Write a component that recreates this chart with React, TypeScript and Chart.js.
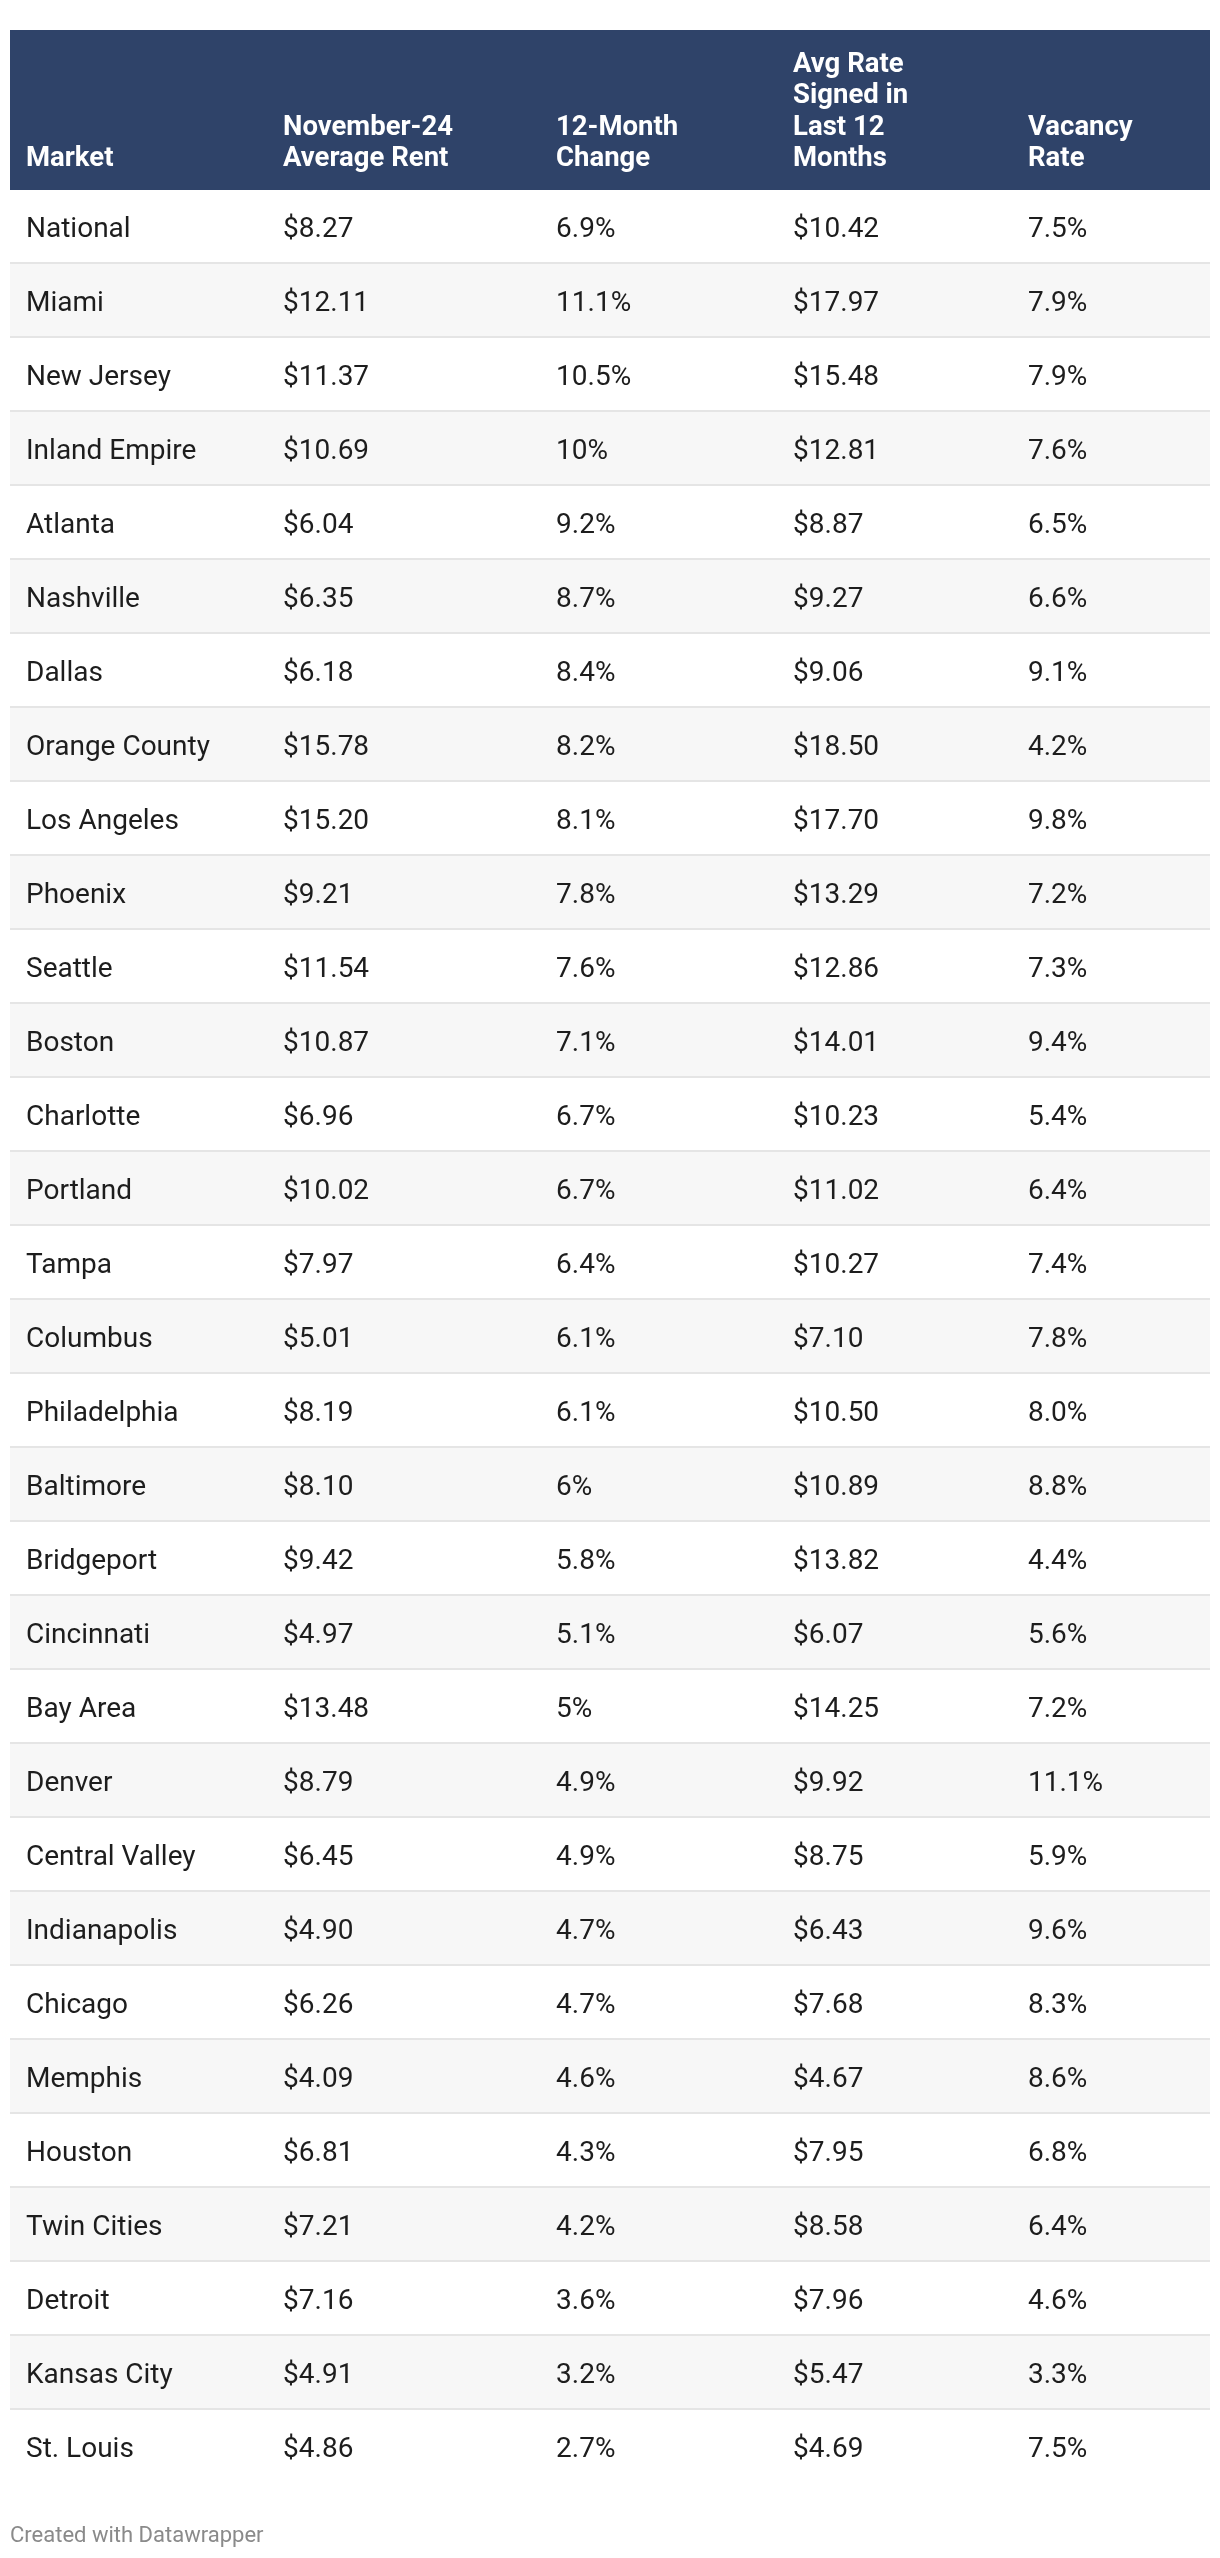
import React, { useEffect, useRef } from "react";
import { Chart, registerables } from "chart.js";

Chart.register(...registerables);

// ---- Data ----
const markets = [
  "National", "Miami", "New Jersey", "Inland Empire", "Atlanta", "Nashville", "Dallas",
  "Orange County", "Los Angeles", "Phoenix", "Seattle", "Boston", "Charlotte", "Portland",
  "Tampa", "Columbus", "Philadelphia", "Baltimore", "Bridgeport", "Cincinnati", "Bay Area",
  "Denver", "Central Valley", "Indianapolis", "Chicago", "Memphis", "Houston", "Twin Cities",
  "Detroit", "Kansas City", "St. Louis",
];
const averageRent = [
  8.27, 12.11, 11.37, 10.69, 6.04, 6.35, 6.18, 15.78, 15.2, 9.21, 11.54, 10.87, 6.96, 10.02,
  7.97, 5.01, 8.19, 8.1, 9.42, 4.97, 13.48, 8.79, 6.45, 4.9, 6.26, 4.09, 6.81, 7.21, 7.16, 4.91, 4.86,
];
const change12Month = [
  6.9, 11.1, 10.5, 10, 9.2, 8.7, 8.4, 8.2, 8.1, 7.8, 7.6, 7.1, 6.7, 6.7, 6.4, 6.1, 6.1, 6, 5.8,
  5.1, 5, 4.9, 4.9, 4.7, 4.7, 4.6, 4.3, 4.2, 3.6, 3.2, 2.7,
];
const avgRateSigned = [
  10.42, 17.97, 15.48, 12.81, 8.87, 9.27, 9.06, 18.5, 17.7, 13.29, 12.86, 14.01, 10.23, 11.02,
  10.27, 7.1, 10.5, 10.89, 13.82, 6.07, 14.25, 9.92, 8.75, 6.43, 7.68, 4.67, 7.95, 8.58, 7.96, 5.47, 4.69,
];
const vacancyRate = [
  7.5, 7.9, 7.9, 7.6, 6.5, 6.6, 9.1, 4.2, 9.8, 7.2, 7.3, 9.4, 5.4, 6.4, 7.4, 7.8, 8.0, 8.8, 4.4,
  5.6, 7.2, 11.1, 5.9, 9.6, 8.3, 8.6, 6.8, 6.4, 4.6, 3.3, 7.5,
];
const headerLines = [
  ["Market"],
  ["November-24", "Average Rent"],
  ["12-Month", "Change"],
  ["Avg Rate", "Signed in", "Last 12", "Months"],
  ["Vacancy", "Rate"],
];
const footerText = "Created with Datawrapper";

// ---- Layout / style ----
const W = 1220;
const H = 2558;
const TABLE_TOP = 30;
const HEADER_BOTTOM = 190;
const TABLE_BOTTOM = 2484;
const COL_STARTS = [0, 21.42, 44.17, 63.92, 83.5]; // in x-scale units (0..100)
const CELL_PAD = 16;
const HEADER_BG = "#2f4369";
const STRIPE = "#f7f7f7";
const LINE = "#e5e5e5";
const TEXT = "#1d1d1d";
const FONT = "Roboto, 'Noto Sans', sans-serif";

const fmtMoney = (v: number) => "$" + v.toFixed(2);
const fmtChange = (v: number) => String(v) + "%";
const fmtVac = (v: number) => v.toFixed(1) + "%";

const tablePlugin = {
  id: "tablePlugin",
  beforeDatasetsDraw(chart: any) {
    const { ctx, chartArea } = chart;
    ctx.save();
    ctx.fillStyle = HEADER_BG;
    ctx.fillRect(chartArea.left, TABLE_TOP, chartArea.right - chartArea.left, chartArea.top - TABLE_TOP);
    ctx.restore();
  },
  afterDatasetsDraw(chart: any) {
    const { ctx, chartArea, scales } = chart;
    const x = scales.x;
    const y = scales.y;
    ctx.save();
    // row separators
    ctx.fillStyle = LINE;
    for (let i = 0; i < markets.length - 1; i++) {
      const b = (y.getPixelForValue(i) + y.getPixelForValue(i + 1)) / 2;
      ctx.fillRect(chartArea.left, Math.round(b) - 2, chartArea.right - chartArea.left, 2);
    }
    // header text
    ctx.fillStyle = "#ffffff";
    ctx.font = `bold 27.5px ${FONT}`;
    ctx.textBaseline = "alphabetic";
    ctx.textAlign = "left";
    const lastBase = chartArea.top - 24;
    headerLines.forEach((lines, j) => {
      const tx = x.getPixelForValue(COL_STARTS[j]) + CELL_PAD;
      lines.forEach((ln, k) => {
        const by = lastBase - (lines.length - 1 - k) * 31.5;
        ctx.fillText(ln, tx, by);
      });
    });
    // cells
    ctx.fillStyle = TEXT;
    ctx.font = `28px ${FONT}`;
    markets.forEach((m, i) => {
      const cy = y.getPixelForValue(i) + 10;
      const vals = [
        m,
        fmtMoney(averageRent[i]),
        fmtChange(change12Month[i]),
        fmtMoney(avgRateSigned[i]),
        fmtVac(vacancyRate[i]),
      ];
      vals.forEach((v, j) => {
        ctx.fillText(v, x.getPixelForValue(COL_STARTS[j]) + CELL_PAD, cy);
      });
    });
    // footer
    ctx.fillStyle = "#8a8a8a";
    ctx.font = `22px ${FONT}`;
    ctx.fillText(footerText, chartArea.left, 2542);
    ctx.restore();
  },
};

export default function App() {
  const ref = useRef<HTMLCanvasElement | null>(null);
  useEffect(() => {
    if (!ref.current) return;
    const chart = new Chart(ref.current, {
      type: "bar",
      data: {
        labels: markets,
        datasets: [
          {
            label: "rows",
            data: markets.map(() => [0, 100]) as any,
            backgroundColor: markets.map((_, i) => (i % 2 === 0 ? "#ffffff" : STRIPE)),
            borderWidth: 0,
            barPercentage: 1,
            categoryPercentage: 1,
          },
        ],
      },
      options: {
        indexAxis: "y",
        animation: false,
        responsive: false,
        events: [],
        layout: {
          padding: { top: HEADER_BOTTOM, bottom: H - TABLE_BOTTOM, left: 10, right: 10 },
        },
        plugins: { legend: { display: false }, tooltip: { enabled: false } },
        scales: {
          x: { display: false, min: 0, max: 100 },
          y: { display: false },
        },
      },
      plugins: [tablePlugin],
    });
    return () => chart.destroy();
  }, []);
  return (
    <div style={{ position: "absolute", left: 0, top: 0, width: W, height: H, background: "#fff" }}>
      <canvas ref={ref} width={W} height={H} style={{ display: "block", width: W, height: H }} />
    </div>
  );
}
